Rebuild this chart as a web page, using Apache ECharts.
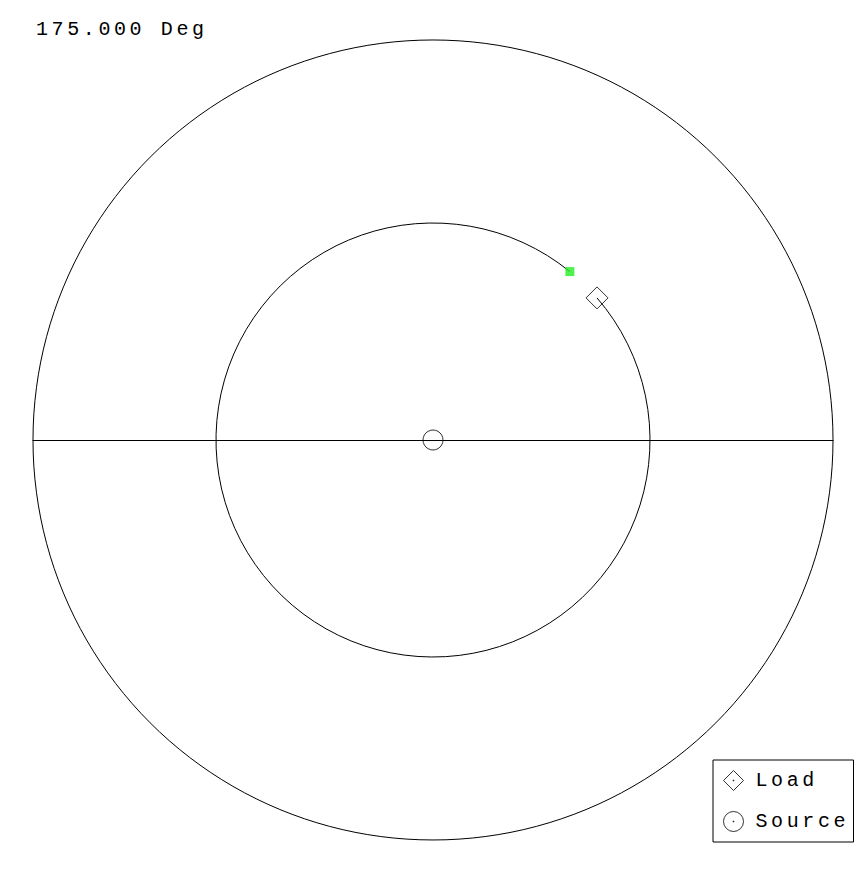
<!DOCTYPE html>
<html>
<head>
<meta charset="utf-8">
<script src="https://cdn.jsdelivr.net/npm/echarts@6/dist/echarts.min.js"></script>
<style>
html, body { margin: 0; padding: 0; background: #fff; }
#chart { width: 867px; height: 875px; }
#chart svg text { letter-spacing: 3.6px; }
</style>
</head>
<body>
<div id="chart"></div>
<script>
// ---- data ----
const titleText = ['175.000 Deg'];
const electricalLengthDeg = [175];          // line length, degrees
const loadGamma = [0.5425, 40.9];           // |Gamma|, angle (deg) of the load
const sourceGamma = [0, 0];                 // source point (x, y) in Gamma plane
const unitCircle = [1, 0];                  // outer |Gamma| = 1 boundary
const legendNames = ['Load', 'Source'];

// derived points through the Gamma plane
const toXY = (mag, angDeg) => [mag * Math.cos(angDeg * Math.PI / 180), mag * Math.sin(angDeg * Math.PI / 180)];
const loadXY = toXY(loadGamma[0], loadGamma[1]);
const endXY = toXY(loadGamma[0], loadGamma[1] - 2 * electricalLengthDeg[0]);

const FONT = 'Liberation Mono';

const chart = echarts.init(document.getElementById('chart'), null, { renderer: 'svg' });

chart.setOption({
  animation: false,
  backgroundColor: '#fff',
  title: {
    text: titleText[0],
    left: 36,
    top: 19,
    padding: 0,
    textStyle: { fontFamily: FONT, fontSize: 20, fontWeight: 'normal', color: '#000' }
  },
  grid: { left: 33, top: 40, width: 800, height: 800, containLabel: false },
  xAxis: {
    type: 'value', min: -1, max: 1,
    axisLine: { show: true, onZero: true, lineStyle: { color: '#000', width: 1 } },
    axisTick: { show: false }, axisLabel: { show: false }, splitLine: { show: false }
  },
  yAxis: {
    type: 'value', min: -1, max: 1, show: false, splitLine: { show: false }
  },
  legend: {
    data: [
      { name: legendNames[0], icon: 'path://M10,0 L20,10 L10,20 L0,10 Z M9.6,9.6 L10.4,9.6 L10.4,10.4 L9.6,10.4 Z' },
      { name: legendNames[1], icon: 'path://M0,10 A10,10 0 1,1 20,10 A10,10 0 1,1 0,10 Z M9.6,9.6 L10.4,9.6 L10.4,10.4 L9.6,10.4 Z' }
    ],
    orient: 'vertical',
    left: 713, top: 760,
    padding: [10, 26, 10, 10],
    itemWidth: 20, itemHeight: 20, itemGap: 20,
    borderColor: '#000', borderWidth: 1, borderRadius: 0,
    backgroundColor: '#fff',
    selectedMode: false,
    itemStyle: { color: '#fff', borderColor: '#000', borderWidth: 1 },
    textStyle: { fontFamily: FONT, fontSize: 20, color: '#000', padding: [0, 0, 0, 7] }
  },
  series: [
    {
      name: 'unit',
      type: 'custom',
      silent: true,
      data: [unitCircle],
      renderItem: function (params, api) {
        const c = api.coord([0, 0]);
        const p = api.coord([api.value(0), api.value(1)]);
        const r = Math.hypot(p[0] - c[0], p[1] - c[1]);
        return { type: 'circle', shape: { cx: c[0], cy: c[1], r: r }, style: { fill: 'none', stroke: '#000', lineWidth: 1 } };
      }
    },
    {
      name: 'trace',
      type: 'custom',
      silent: true,
      data: [[loadXY[0], loadXY[1], electricalLengthDeg[0]]],
      renderItem: function (params, api) {
        const c = api.coord([0, 0]);
        const p = api.coord([api.value(0), api.value(1)]);
        const r = Math.hypot(p[0] - c[0], p[1] - c[1]);
        const start = Math.atan2(p[1] - c[1], p[0] - c[0]);
        const end = start + 2 * api.value(2) * Math.PI / 180;
        return { type: 'arc', shape: { cx: c[0], cy: c[1], r: r, startAngle: start, endAngle: end, clockwise: true },
                 style: { fill: 'none', stroke: '#000', lineWidth: 1 } };
      }
    },
    {
      name: legendNames[0],
      type: 'scatter',
      symbol: 'diamond',
      symbolSize: 22,
      data: [loadXY],
      itemStyle: { color: 'rgba(0,0,0,0)', borderColor: '#000', borderWidth: 1 },
      z: 5
    },
    {
      name: legendNames[1],
      type: 'scatter',
      symbol: 'circle',
      symbolSize: 20,
      data: [sourceGamma],
      itemStyle: { color: 'rgba(0,0,0,0)', borderColor: '#000', borderWidth: 1 },
      z: 5
    },
    {
      name: 'end',
      type: 'scatter',
      symbol: 'rect',
      symbolSize: 9,
      data: [endXY],
      itemStyle: { color: '#22ee22', borderWidth: 0 },
      z: 6
    }
  ]
});
</script>
</body>
</html>
